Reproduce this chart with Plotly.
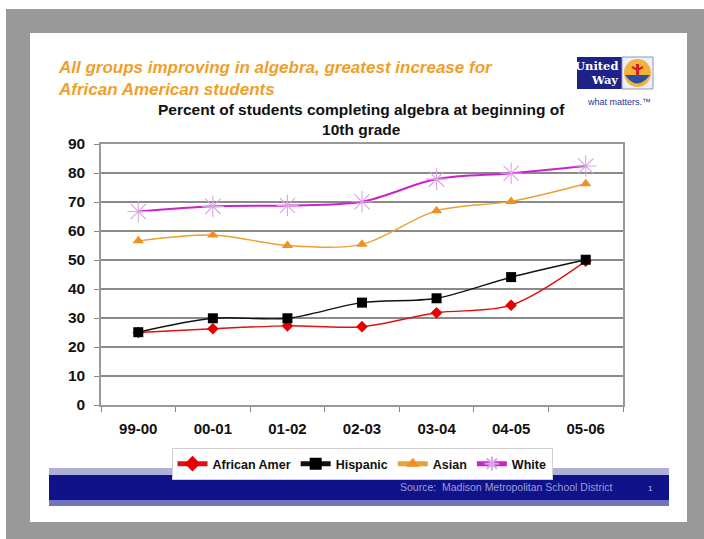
import plotly.graph_objects as go

years = ["99-00", "00-01", "01-02", "02-03", "03-04", "04-05", "05-06"]
african_amer = [25.0, 26.3, 27.3, 27.0, 31.8, 34.4, 49.6]
hispanic = [25.1, 29.9, 29.9, 35.3, 36.8, 44.1, 50.1]
asian = [56.6, 58.6, 55.0, 55.4, 67.0, 70.2, 76.3]
white = [66.7, 68.5, 68.8, 70.1, 77.9, 79.9, 82.4]

W, H = 704, 539
L, R, T, B = 101, 623, 144, 405


def px(x):
    return (x - L) / (R - L)


def py(y):
    return (B - y) / (B - T)


FONT = "Arial, Liberation Sans, sans-serif"

fig = go.Figure()

series = [
    ("African Amer", african_amer, "#e01010", dict(symbol="diamond", size=9, color="#e60000")),
    ("Hispanic", hispanic, "#111111", dict(symbol="square", size=10, color="#000000")),
    ("Asian", asian, "#eba033", dict(symbol="triangle-up", size=10, color="#ee9120")),
    ("White", white, "#cc22cc", dict(symbol="asterisk-open", size=18, color="#d9a3e6",
                                      line=dict(color="#d6a2e8", width=1.1))),
]
for name, vals, lc, mk in series:
    fig.add_trace(go.Scatter(
        x=years, y=vals, name=f"<b>{name}</b>", mode="lines+markers",
        line=dict(color=lc, width=2 if name == "White" else 1.4, shape="spline", smoothing=0.9),
        marker=mk,
    ))

shapes = [
    dict(type="rect", xref="paper", yref="paper", x0=px(6), x1=px(704), y0=py(539), y1=py(9),
         fillcolor="#999999", line=dict(width=0), layer="below"),
    dict(type="rect", xref="paper", yref="paper", x0=px(30), x1=px(687), y0=py(522), y1=py(33),
         fillcolor="#ffffff", line=dict(width=0), layer="below"),
    dict(type="rect", xref="paper", yref="paper", x0=px(49), x1=px(669), y0=py(475), y1=py(468),
         fillcolor="#aeb0d8", line=dict(width=0), layer="below"),
    dict(type="rect", xref="paper", yref="paper", x0=px(49), x1=px(669), y0=py(500), y1=py(475),
         fillcolor="#10128a", line=dict(width=0), layer="below"),
    dict(type="rect", xref="paper", yref="paper", x0=px(49), x1=px(669), y0=py(506), y1=py(500),
         fillcolor="#7073bd", line=dict(width=0), layer="below"),
    # logo
    dict(type="rect", xref="paper", yref="paper", x0=px(577), x1=px(622), y0=py(89), y1=py(57),
         fillcolor="#1d2287", line=dict(width=0), layer="below"),
    dict(type="rect", xref="paper", yref="paper", x0=px(622), x1=px(653), y0=py(89), y1=py(57),
         fillcolor="#eef0f8", line=dict(color="#8f94c8", width=1), layer="below"),
    dict(type="circle", xref="paper", yref="paper", x0=px(624), x1=px(651), y0=py(87), y1=py(59),
         fillcolor="#f3b23a", line=dict(width=0), layer="below"),
    dict(type="path", xref="paper", yref="paper", layer="below",
         path=f"M {px(625)} {py(75)} Q {px(637)} {py(92)} {px(650)} {py(75)} Z",
         fillcolor="#2a4f9e", line=dict(width=0)),
    dict(type="path", xref="paper", yref="paper", layer="below",
         path=f"M {px(637.5)} {py(64)} L {px(637.5)} {py(76)}",
         line=dict(color="#d42020", width=3)),
    dict(type="path", xref="paper", yref="paper", layer="below",
         path=f"M {px(632)} {py(67)} L {px(637.5)} {py(70)} L {px(643)} {py(67)}",
         line=dict(color="#d42020", width=2)),
]

annotations = [
    dict(text="<b><i>All groups improving in algebra, greatest increase for<br>African American students</i></b>",
         x=px(56), y=py(56), xref="paper", yref="paper", xanchor="left", yanchor="top",
         showarrow=False, align="left", font=dict(family=FONT, size=17, color="#ef9f2a")),
    dict(text="<b>Percent of students completing algebra at beginning of<br>10th grade</b>",
         x=px(361), y=py(120), xref="paper", yref="paper", xanchor="center", yanchor="middle",
         showarrow=False, align="center", font=dict(family=FONT, size=15.5, color="#111111")),
    dict(text="<b>United</b>", x=px(620), y=py(66), xref="paper", yref="paper", xanchor="right",
         yanchor="middle", showarrow=False, font=dict(family="DejaVu Serif, serif", size=11.5, color="#ffffff")),
    dict(text="<b>Way</b>", x=px(620), y=py(80), xref="paper", yref="paper", xanchor="right",
         yanchor="middle", showarrow=False, font=dict(family="DejaVu Serif, serif", size=11.5, color="#ffffff")),
    dict(text="what matters.™", x=px(585), y=py(102), xref="paper", yref="paper", xanchor="left",
         yanchor="middle", showarrow=False, font=dict(family=FONT, size=9, color="#2a3591")),
    dict(text="Source:  Madison Metropolitan School District", x=px(398), y=py(487), xref="paper", yref="paper",
         xanchor="left", yanchor="middle", showarrow=False, font=dict(family=FONT, size=10.5, color="#9a9cd6")),
    dict(text="1", x=px(650), y=py(488), xref="paper", yref="paper",
         xanchor="center", yanchor="middle", showarrow=False, font=dict(family=FONT, size=8, color="#c0c2ea")),
]

fig.update_layout(
    width=W, height=H,
    margin=dict(l=L, r=W - R, t=T, b=H - B, pad=0),
    paper_bgcolor="#ffffff",
    plot_bgcolor="rgba(0,0,0,0)",
    shapes=shapes,
    annotations=annotations,
    showlegend=True,
    legend=dict(orientation="h", x=px(362), y=py(448), xanchor="center", yanchor="top",
                bgcolor="#ffffff", bordercolor="#d0d0d0", borderwidth=1,
                font=dict(family=FONT, size=12.5, color="#111111"),
                itemwidth=30, itemsizing="constant", tracegroupgap=0),
    xaxis=dict(type="category", range=[-0.5, 6.5], tickson="boundaries", ticks="outside",
               ticklen=5, tickcolor="#888888", showline=True, linecolor="#999999", linewidth=1.5,
               mirror=True, showgrid=False, zeroline=False,
               tickfont=dict(family=FONT, size=15, color="#111111"),
               tickprefix="<b>", ticksuffix="</b>", ticklabelstandoff=9),
    yaxis=dict(range=[0, 90], dtick=10, ticks="outside", ticklen=5, tickcolor="#888888",
               showline=True, linecolor="#999999", linewidth=1.5, mirror=True,
               showgrid=True, gridcolor="#8a8a8a", gridwidth=1.5, zeroline=False,
               tickfont=dict(family=FONT, size=15.5, color="#111111"),
               tickprefix="<b>", ticksuffix="</b>", ticklabelstandoff=6),
)

fig.write_html("out.html")
